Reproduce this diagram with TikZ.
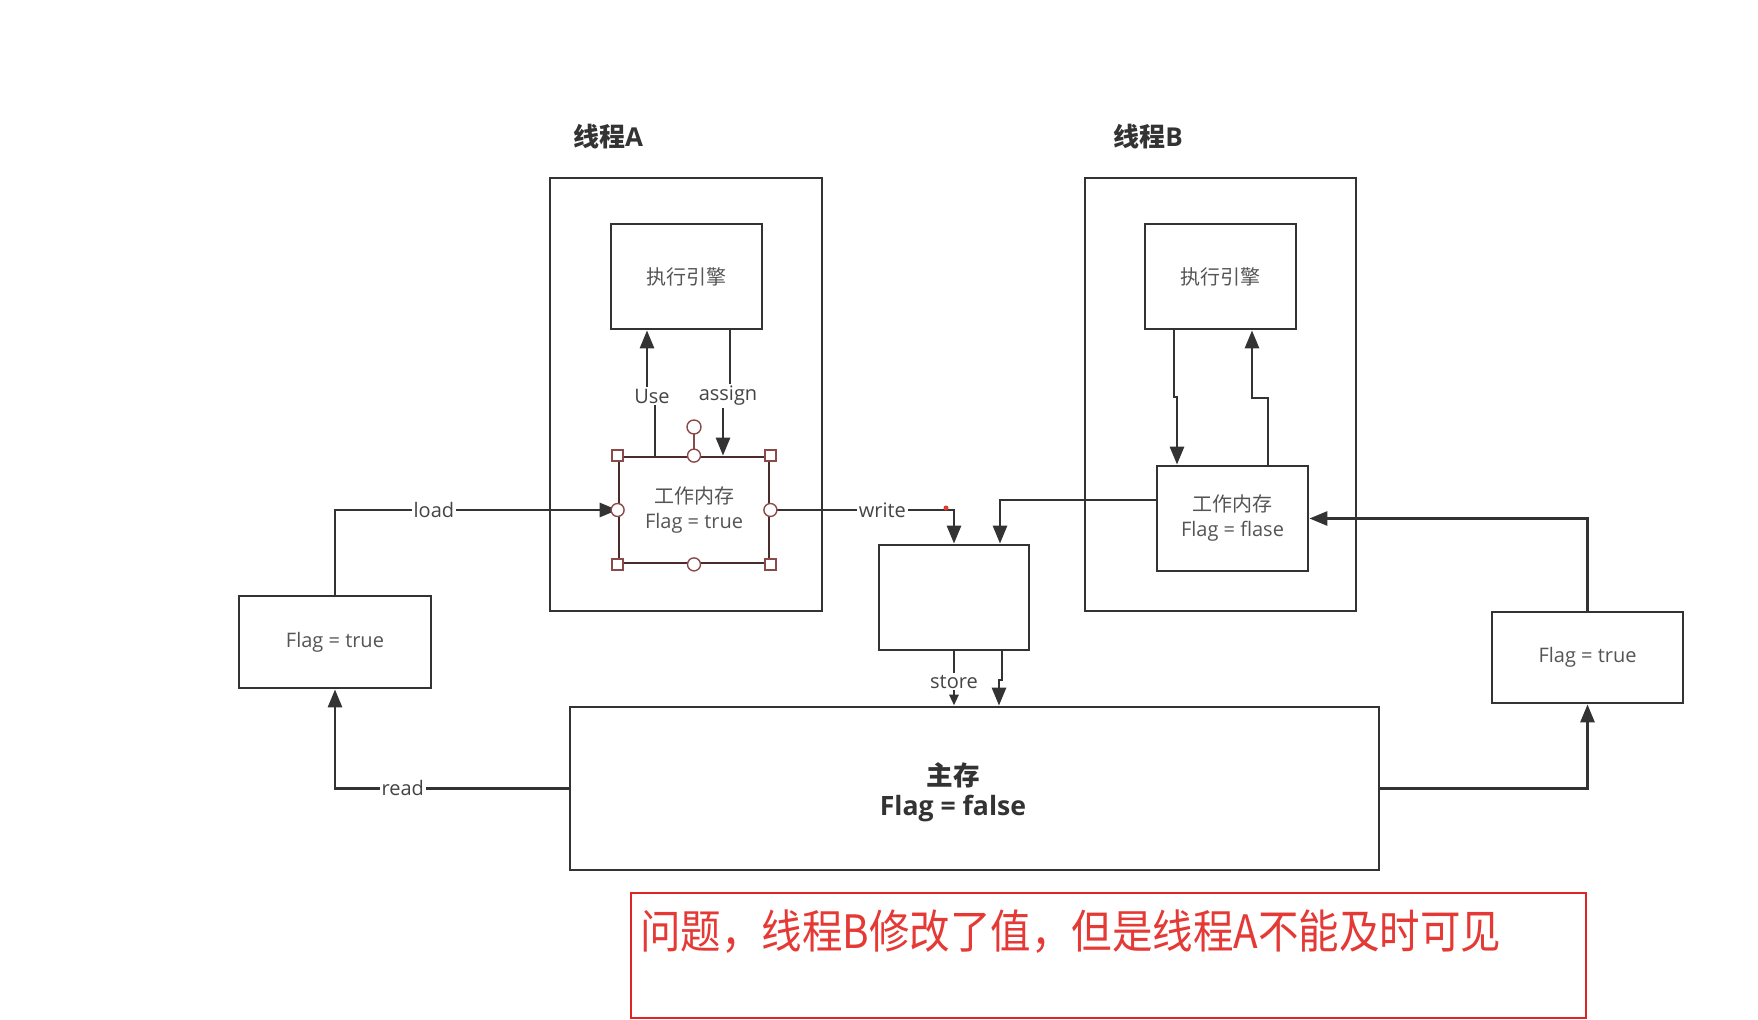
\documentclass[tikz,border=0pt]{standalone}
\usepackage{fontspec}
\setmainfont{Open Sans}
\newfontfamily\cjk{Noto Sans CJK SC}
\newfontfamily\cjkred{Noto Sans CJK SC}[FakeStretch=0.88]
\usetikzlibrary{arrows.meta,calc}
\definecolor{ln}{HTML}{333333}
\definecolor{tx}{HTML}{555555}
\definecolor{lb}{HTML}{444444}
\definecolor{tt}{HTML}{333333}
\definecolor{wmc}{HTML}{4A2C2C}
\definecolor{hd}{HTML}{8B4A4A}
\definecolor{rd}{HTML}{E53935}
\definecolor{rbox}{HTML}{E02424}
\begin{document}
\begin{tikzpicture}[x=0.5pt,y=-0.5pt,
  box/.style={draw=ln, line width=1.4pt, inner sep=0pt, align=center, text=tx, font=\fontsize{10}{12.5}\selectfont},
  sz/.style 2 args={minimum width=#1*0.5pt, minimum height=#2*0.5pt},
  conn/.style={draw=ln, line width=1.4pt},
  arr/.style={conn, -{Triangle[length=9pt,width=7pt]}},
  sarr/.style={conn, -{Triangle[length=5.5pt,width=4.5pt]}},
  lbl/.style={fill=white, inner sep=1pt, text=lb, font=\fontsize{10}{11}\selectfont},
  title/.style={text=tt, font=\fontsize{13}{15}\selectfont\bfseries},
  hsq/.style={draw=hd, fill=white, line width=0.7pt, rectangle, minimum size=5.5pt, inner sep=0pt},
  hci/.style={draw=hd, fill=white, line width=0.7pt, circle, minimum size=6.5pt, inner sep=0pt}
]
\useasboundingbox (0,0) rectangle (1758,1020);
\fill[white] (0,0) rectangle (1758,1020);

% titles
\node[title] (tA) at (608,137) {{\cjk 线程}A};
\node[title] (tB) at (1148,137) {{\cjk 线程}B};

% thread A
\node[box, sz={272}{433}] (outA) at (686,394.5) {};
\node[box, sz={151}{105}] (exA) at (686.5,276.5) {\cjk 执行引擎};
\node[box, sz={150}{106}, draw=wmc] (wmA) at (694,510) {{\cjk 工作内存}\\Flag = true};

% thread B
\node[box, sz={271}{433}] (outB) at (1220.5,394.5) {};
\node[box, sz={151}{105}] (exB) at (1220.5,276.5) {\cjk 执行引擎};
\node[box, sz={151}{105}] (wmB) at (1232.5,518.5) {{\cjk 工作内存}\\Flag = flase};

% other boxes
\node[box, sz={150}{105}] (mid) at (954,597.5) {};
\node[box, sz={192}{92}] (flagL) at (335,642) {Flag = true};
\node[box, sz={191}{91}] (flagR) at (1587.5,657.5) {Flag = true};
\node[box, sz={809}{163}] (main) at (974.5,788.5) {};
\node[text=ln, align=center, font=\fontsize{13.3}{15}\selectfont\bfseries] (mainT) at (953,792) {{\cjk 主存}\\Flag = false};

% use / assign in thread A
\draw[arr] (wmA.north -| 655,0) -- (655,395) -- (647,395) -- (exA.south -| 647,0);
\draw[arr] (exA.south -| 730,0) -- (730,395) -- (723,395) -- (wmA.north -| 723,0);
\node[lbl] (uL) at (652,396) {Use};
\node[lbl] (aL) at (728,396) {assign};

% thread B internal
\draw[arr] (exB.south -| 1174,0) -- (1174,397) -- (1177,397) -- (wmB.north -| 1177,0);
\draw[arr] (wmB.north -| 1268,0) -- (1268,398) -- (1252,398) -- (exB.south -| 1252,0);

% load / read
\draw[arr] (flagL.north) |- node[lbl, pos=0.675] {load} (wmA.west);
\draw[arr] (main.west) -| node[lbl, pos=0.355] {read} (flagL.south);

% right side
\draw[arr] (main.east) -| (flagR.south);
\draw[arr] (flagR.north) |- (wmB.east);

% write
\draw[arr] (wmA.east) -| node[lbl, pos=0.305] {write} (mid.north);
\fill[rd] (946,508) circle (2.5);
\draw[arr] (wmB.west |- 0,500) -| (mid.north -| 1000,0);

% store
\draw[sarr] (mid.south) -- node[lbl, pos=0.56] {store} (mid.south |- main.north);
\draw[arr] (mid.south -| 1002,0) -- (1002,680) -- (999,680) -- (main.north -| 999,0);

% selection handles on wmA
\draw[hd, line width=0.7pt] (wmA.north) -- (694,434);
\node[hci, minimum size=7pt] (rot) at (694,427) {};
\node[hsq] (h1) at (wmA.north west) {};
\node[hsq] (h2) at (wmA.north east) {};
\node[hsq] (h3) at (wmA.south west) {};
\node[hsq] (h4) at (wmA.south east) {};
\node[hci] (h5) at (wmA.north) {};
\node[hci] (h6) at (wmA.south) {};
\node[hci] (h7) at (wmA.west) {};
\node[hci] (h8) at (wmA.east) {};

% note box
\node[draw=rbox, line width=1.1pt, minimum width=955*0.5pt, minimum height=125*0.5pt, inner sep=0pt] (note) at (1108.5,955.5) {};
\node[anchor=west, text=rd, inner sep=0pt, font=\cjkred\fontsize{23}{27}\selectfont] (q) at (640,932) {问题，线程B修改了值，但是线程A不能及时可见};
\end{tikzpicture}
\end{document}
